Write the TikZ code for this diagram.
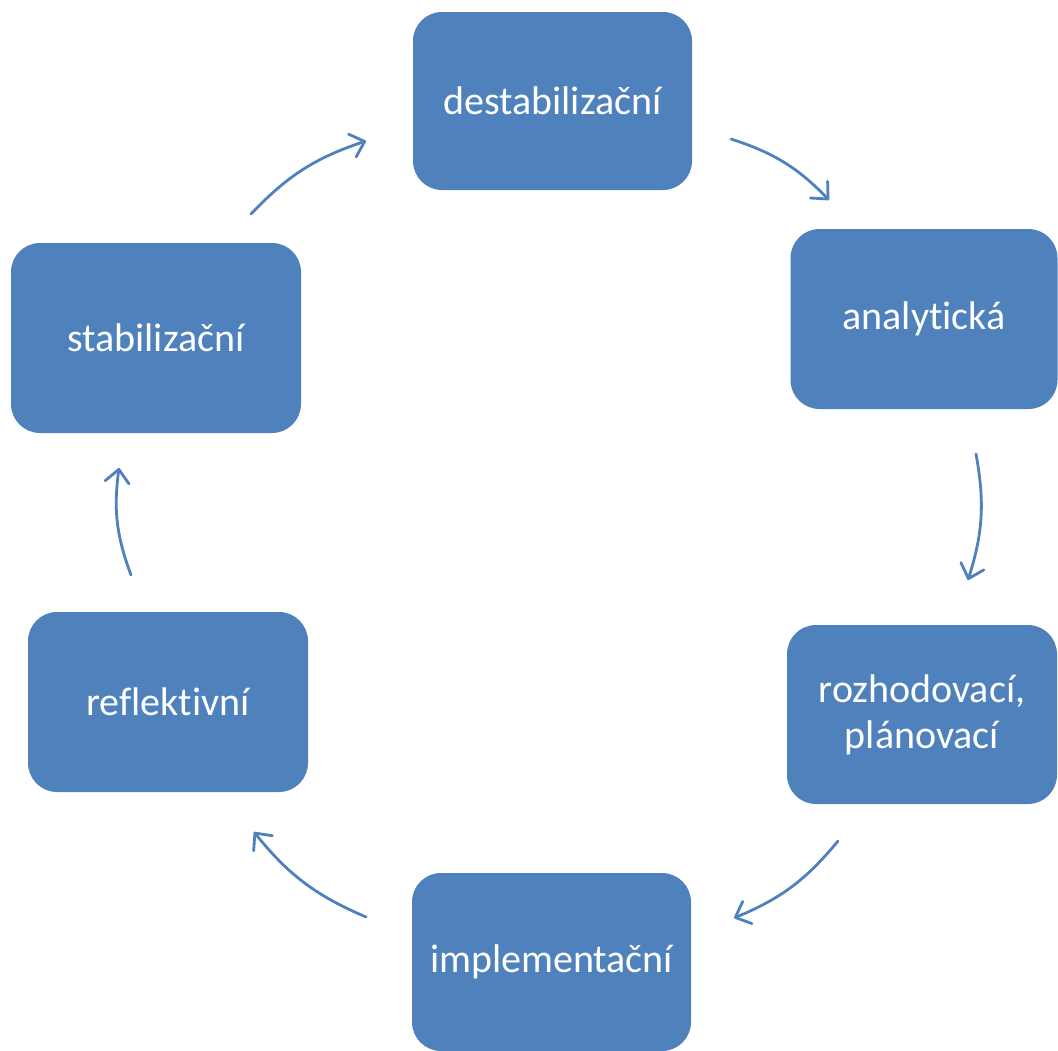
\documentclass[tikz,border=0pt]{standalone}
\usepackage{fontspec}
\setmainfont[Ligatures={NoCommon,NoContextual,NoRare},RawFeature={-liga;-clig;-dlig}]{Carlito}
\usetikzlibrary{arrows.meta}
\definecolor{boxblue}{HTML}{4F81BD}
\begin{document}
\begin{tikzpicture}[x=1pt,y=-1pt,
  stagebox/.style={fill=boxblue,rounded corners=29pt,inner sep=0pt,
    text=white,align=center,font=\fontsize{40}{46}\selectfont},
  cyc/.style={draw=boxblue,line width=2.8pt,line cap=round,
    -{Straight Barb[length=13pt,width=24pt,line cap=round,line join=round]},
    bend left=14}]
\useasboundingbox (0,0) rectangle (1058,1050);
\node[stagebox,minimum width=279pt,minimum height=178pt] (destab) at (552.5,101) {destabilizační};
\node[stagebox,minimum width=267pt,minimum height=180pt] (analyt) at (924,319) {analytická};
\node[stagebox,minimum width=270pt,minimum height=179pt] (rozhod) at (922,714.5) {rozhodovací,\\plánovací};
\node[stagebox,minimum width=279pt,minimum height=178pt] (implem) at (551.5,962) {implementační};
\node[stagebox,minimum width=280pt,minimum height=180pt] (reflek) at (168,702) {reflektivní};
\node[stagebox,minimum width=290pt,minimum height=190pt] (stabil) at (156,338) {stabilizační};
\coordinate (a1s) at (731,139);
\coordinate (a1e) at (829,200);
\coordinate (a2s) at (976,454);
\coordinate (a2e) at (968,580);
\coordinate (a3s) at (838,841);
\coordinate (a3e) at (734,918);
\coordinate (a4s) at (366,917);
\coordinate (a4e) at (254,832);
\coordinate (a5s) at (131,575);
\coordinate (a5e) at (119,468);
\coordinate (a6s) at (251,214);
\coordinate (a6e) at (366,141);
\draw[cyc] (a1s) to (a1e);
\draw[cyc] (a2s) to (a2e);
\draw[cyc] (a3s) to (a3e);
\draw[cyc] (a4s) to (a4e);
\draw[cyc] (a5s) to (a5e);
\draw[cyc] (a6s) to (a6e);
\end{tikzpicture}
\end{document}
